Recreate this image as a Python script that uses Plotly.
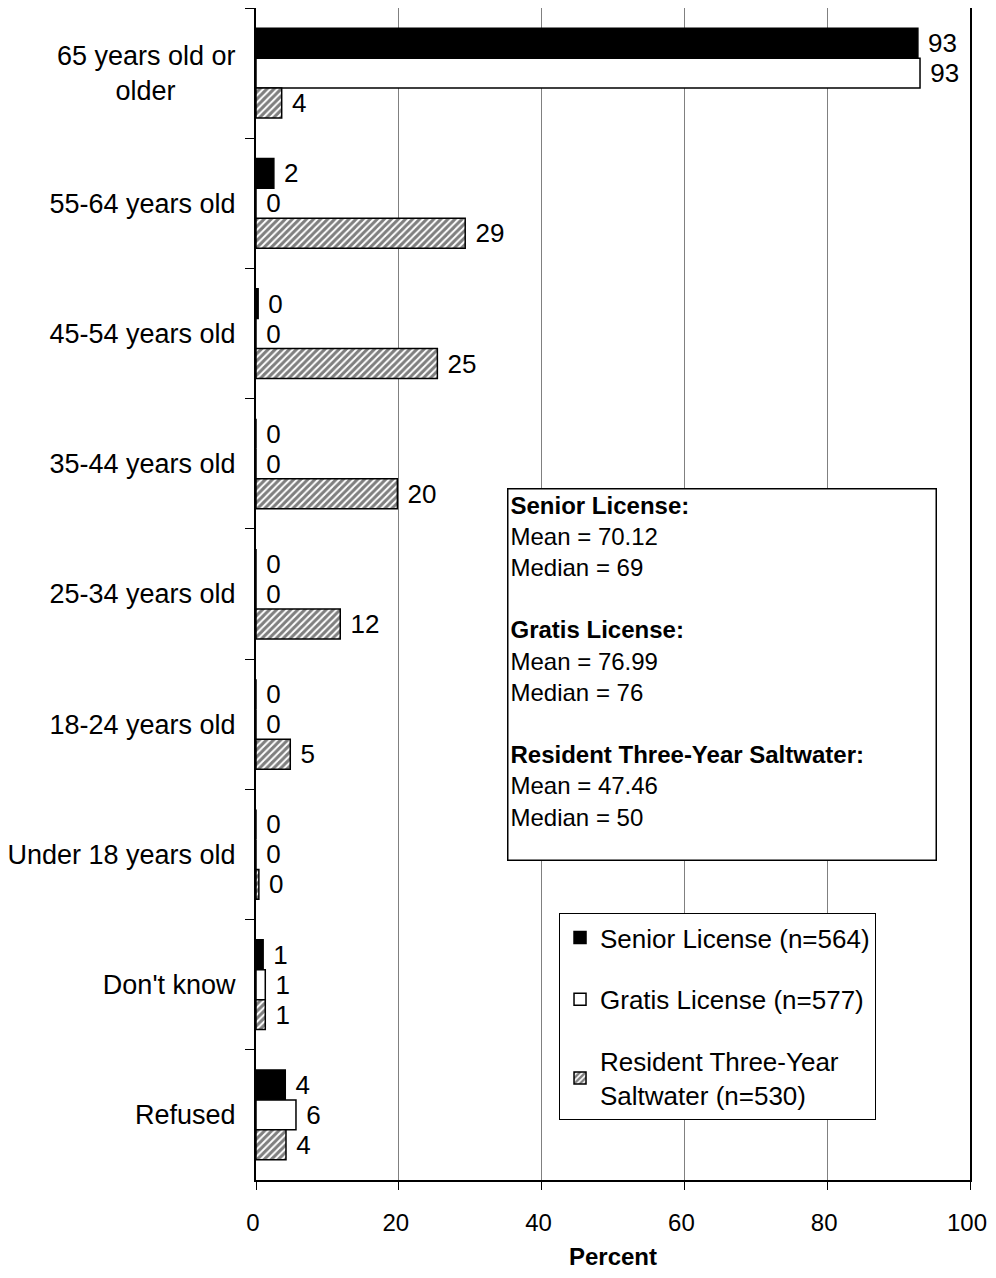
import plotly.graph_objects as go

NB = "\u00a0"
categories = ["65 years old or<br>older" + NB * 8, "55-64 years old", "45-54 years old", "35-44 years old",
              "25-34 years old", "18-24 years old", "Under 18 years old", "Don't know", "Refused"]

senior_vals = [92.7, 2.5, 0.3, 0, 0, 0, 0, 1.0, 4.1]
senior_lbls = [93, 2, 0, 0, 0, 0, 0, 1, 4]
gratis_vals = [93.0, 0, 0, 0, 0, 0, 0, 1.3, 5.6]
gratis_lbls = [93, 0, 0, 0, 0, 0, 0, 1, 6]
resident_vals = [3.6, 29.3, 25.4, 19.8, 11.8, 4.8, 0.4, 1.3, 4.2]
resident_lbls = [4, 29, 25, 20, 12, 5, 0, 1, 4]

series_names = ["Senior License (n=564)", "Gratis License (n=577)",
                "Resident Three-Year<br>Saltwater (n=530)"]

x_ticks = [0, 20, 40, 60, 80, 100]

stats_text = ("<b>Senior License:</b><br>Mean = 70.12<br>Median = 69<br> <br>"
              "<b>Gratis License:</b><br>Mean = 76.99<br>Median = 76<br> <br>"
              "<b>Resident Three-Year Saltwater:</b><br>Mean = 47.46<br>Median = 50")

FONT = "Liberation Sans, Arial, sans-serif"

fig = go.Figure()
common = dict(orientation="h", textposition="outside", cliponaxis=False,
              textfont=dict(family=FONT, size=26, color="black"),
              texttemplate=" %{text}",
              constraintext="none", hoverinfo="x+y")

fig.add_trace(go.Bar(y=categories, x=senior_vals, text=senior_lbls, name=series_names[0],
                     legendgroup="a",
                     marker=dict(color="black", line=dict(color="black", width=1.5)), **common))
fig.add_trace(go.Bar(y=categories, x=gratis_vals, text=gratis_lbls, name=series_names[1],
                     legendgroup="b",
                     marker=dict(color="white", line=dict(color="black", width=1.5)), **common))
fig.add_trace(go.Bar(y=categories, x=resident_vals, text=resident_lbls, name=series_names[2],
                     legendgroup="c",
                     marker=dict(color="white", line=dict(color="black", width=1.5),
                                 pattern=dict(shape="/", fgcolor="black", bgcolor="white",
                                              size=5, solidity=0.6)), **common))

fig.update_layout(
    width=988, height=1262,
    margin=dict(l=248, r=26, t=0, b=90, autoexpand=False),
    paper_bgcolor="white", plot_bgcolor="white",
    barmode="group", bargap=0.31, bargroupgap=0,
    font=dict(family=FONT, size=26, color="black"),
    showlegend=True,
    legend=dict(x=0.4244, y=0.2278, xanchor="left", yanchor="top",
                bordercolor="black", borderwidth=1, bgcolor="white",
                font=dict(family=FONT, size=26, color="black"),
                traceorder="grouped", tracegroupgap=25, itemwidth=30),
    xaxis=dict(range=[0, 100], tickvals=x_ticks, showgrid=True, gridcolor="#808080", gridwidth=1,
               showline=True, linecolor="black", linewidth=2, mirror=True,
               ticks="outside", ticklen=8, tickcolor="black", tickwidth=1,
               tickfont=dict(family=FONT, size=24, color="black"),
               ticklabelstandoff=12, ticklabelshift=-3, zeroline=False, automargin=False,
               title=dict(text="<b>Percent</b>", font=dict(family=FONT, size=24, color="black"),
                          standoff=22)),
    yaxis=dict(autorange="reversed", showgrid=False, showline=True, linecolor="black",
               linewidth=2, mirror=True, ticks="outside", ticklen=9, tickcolor="black",
               tickwidth=1, tickson="boundaries", ticklabelstandoff=13, automargin=False,
               tickfont=dict(family=FONT, size=27, color="black")),
)

fig.add_annotation(xref="paper", yref="paper", x=0.3515, y=0.5904, xanchor="left", yanchor="top",
                   text=stats_text, showarrow=False, align="left", valign="top",
                   width=423, height=366, borderpad=2,
                   bordercolor="black", borderwidth=1.5, bgcolor="white",
                   font=dict(family=FONT, size=24, color="black"))

fig.write_html("out.html")
